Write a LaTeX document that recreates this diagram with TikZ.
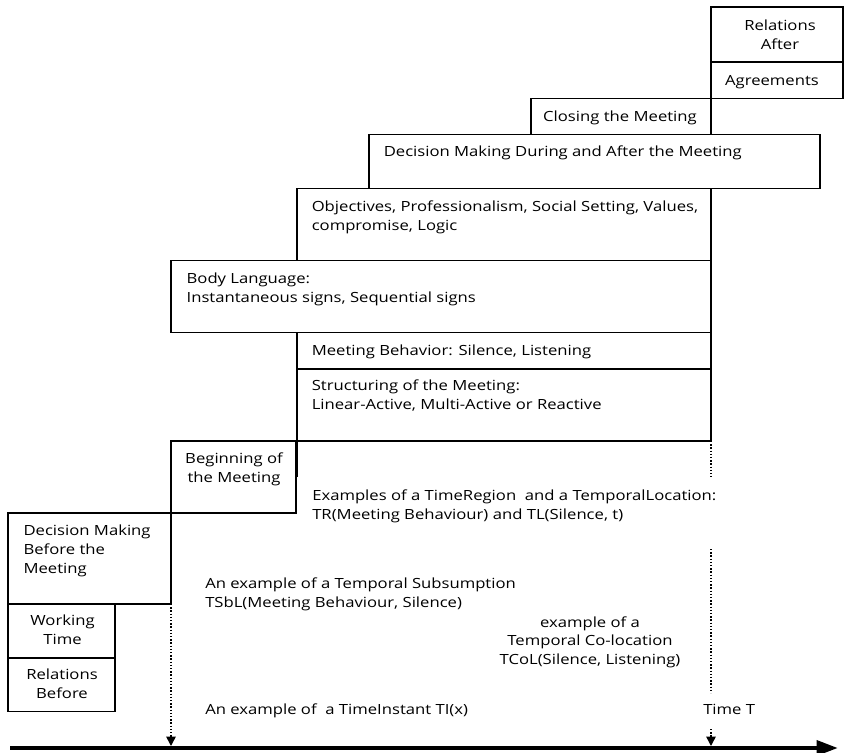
\documentclass[tikz,border=0pt]{standalone}
\usepackage{fontspec}
\setmainfont{Open Sans}[FakeStretch=1.19]
\usetikzlibrary{arrows.meta}
\begin{document}
\begin{tikzpicture}[x=0.75pt,y=0.75pt,yscale=-1,xscale=1,
  font=\fontsize{10.5}{13.9}\selectfont,
  box/.style={draw, line width=1.1pt, fill=white},
  lbl/.style={inner sep=0pt, align=left, anchor=base west},
  clbl/.style={inner sep=0pt, align=center, anchor=base},
  dotline/.style={line width=1.1pt, dash pattern=on 1.1pt off 1.3pt},
  dotarrow/.style={dotline, -{Triangle[width=7pt,length=7pt]}}]
\useasboundingbox (0,0) rectangle (844,753);

%Shape: Rectangle
\draw[box] (711,7) rectangle (843,62);
\draw[box] (711,62) rectangle (843,98.5);
\draw[box] (531,98.5) rectangle (711,134.5);
\draw[box] (297,188.5) rectangle (711,260.5);
\draw[box] (297,332.5) rectangle (711,369);
\draw[box] (297,369) rectangle (711,441);
\draw[box] (171,441) rectangle (296,513);
\draw[box] (8,513) rectangle (171,604);
\draw[box] (8,604) rectangle (115,658);
\draw[box] (8,658) rectangle (115,711.5);
%Shape: Rectangle (on top)
\draw[box] (369,134.5) rectangle (820,188.5);
\draw[box] (171,260.5) rectangle (711,332.5);
%Straight Lines
\draw[line width=1.1pt] (297,441) -- (297,477);

% Text Node (multi-line nodes sit on their last baseline)
\node (relAfter) [clbl] at (780,49.5) {Relations\\After};
% Text Node
\node (agree) [clbl] at (772,85.5) {Agreements};
% Text Node
\node (closing) [clbl] at (620,121.8) {Closing the Meeting};
% Text Node
\node (decDuring) [lbl] at (383.5,156) {Decision Making During and After the Meeting};
% Text Node
\node (objectives) [lbl] at (311.5,230.2) {Objectives, Professionalism, Social Setting, Values,\\compromise, Logic};
% Text Node
\node (bodyLang) [lbl] at (186.4,302.2) {Body Language:\\Instantaneous signs, Sequential signs};
% Text Node
\node (meetBeh) [lbl] at (311.5,355.2) {Meeting Behavior: Silence, Listening};
% Text Node
\node (structuring) [lbl] at (311.5,409.5) {Structuring of the Meeting:\\Linear-Active, Multi-Active or Reactive};
% Text Node
\node (beginning) [clbl] at (234,482) {Beginning of\\the Meeting};
% Text Node
\node (exRegion) [lbl] at (312,519.5) {Examples of a TimeRegion\ \ and a TemporalLocation:\\TR(Meeting Behaviour) and TL(Silence, t)};
% Text Node
\node (decBefore) [lbl] at (23.3,573) {Decision Making\\Before the\\Meeting};
% Text Node
\node (exSub) [lbl] at (205,607) {An example of a Temporal Subsumption\\TSbL(Meeting Behaviour, Silence)};
% Text Node
\node (working) [clbl] at (62.5,644.5) {Working\\Time};
% Text Node
\node (relBefore) [clbl] at (62,698) {Relations\\Before};
% Text Node
\node (exColoc) [clbl] at (590,664.5) {example of a\\Temporal Co-location\\TCoL(Silence, Listening)};
% Text Node
\node (exInstant) [lbl] at (205,714.5) {An example of\ \ a TimeInstant TI(x)};
% Text Node
\node (timeT) [lbl] at (703,714.5) {Time T};

%Axis
\coordinate (axisStart) at (10,748);
\coordinate (axisEnd) at (838,748);
\draw[line width=3.2pt, -{Triangle[width=11pt,length=16pt]}] (axisStart) -- (axisEnd);

%Dotted Lines
\coordinate (tiTop) at (171,604);
\coordinate (tiFoot) at (171,746);
\draw[dotarrow] (tiTop) -- (tiFoot);
\coordinate (tTop) at (711,441);
\coordinate (tCutA) at (711,477);
\coordinate (tCutB) at (711,549);
\coordinate (tCutC) at (711,693);
\coordinate (tCutD) at (711,729);
\coordinate (tFoot) at (711,746);
\draw[dotline] (tTop) -- (tCutA);
\draw[dotline] (tCutB) -- (tCutC);
\draw[dotarrow] (tCutD) -- (tFoot);

\end{tikzpicture}
\end{document}
